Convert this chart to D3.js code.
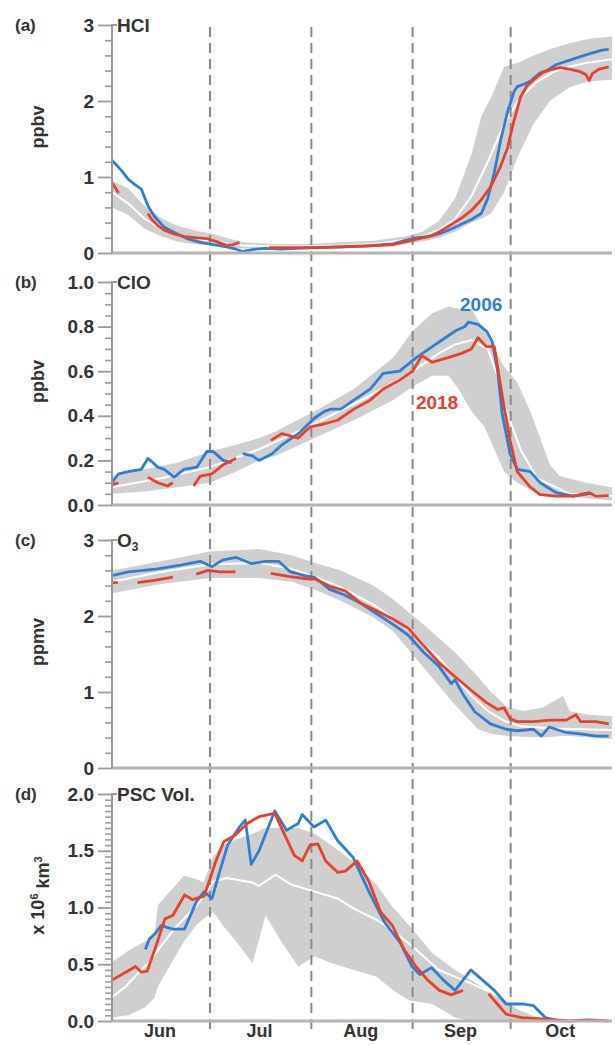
<!DOCTYPE html>
<html>
<head>
<meta charset="utf-8">
<script src="https://cdn.jsdelivr.net/npm/d3@7"></script>
<style>
  html, body { margin: 0; padding: 0; background: #fff; }
  svg { display: block; }
  text { font-family: "Liberation Sans", Arial, Helvetica, sans-serif; fill: #333; }
</style>
</head>
<body>
<svg id="chart" width="615" height="1045"></svg>
<script>
// ---------------- DATA (day 0 = 1 June) ----------------
const months = ["Jun", "Jul", "Aug", "Sep", "Oct"];
const monthMid = [14.5, 45, 76, 106.5, 137];
const monthStart = [30, 61, 92, 122];

// (a) HCl, ppbv
const hcl2006 = [[0,1.22],[3,1.08],[5,0.97],[7,0.9],[9,0.84],[11,0.62],[13,0.48],[16,0.34],[20,0.25],[23,0.19],[27,0.14],[31,0.11],[35,0.08],[38,0.05],[40,0.02],[44,0.05],[47,0.06],[52,0.05],[56,0.06],[62,0.07],[70,0.08],[80,0.1],[86,0.12],[90,0.17],[93,0.2],[97,0.22],[100,0.25],[104,0.32],[108,0.4],[110,0.44],[113,0.52],[115,0.72],[117,1.06],[119,1.5],[121,1.85],[123,2.12],[124,2.19],[126,2.22],[128,2.26],[131,2.37],[133,2.4],[136,2.48],[141,2.55],[146,2.62],[150,2.67],[152,2.68]];
const hcl2018 = [[0,0.92],[1,0.86],[2,0.79],[2.5,null],[11,0.52],[12,0.45],[14,0.36],[16,0.3],[19,0.25],[22,0.22],[26,0.2],[29,0.19],[32,0.15],[35,0.1],[37,0.11],[39,0.14],[40,null],[48,0.07],[55,0.07],[62,0.07],[70,0.08],[78,0.09],[86,0.11],[90,0.15],[94,0.19],[98,0.23],[101,0.3],[104,0.38],[107,0.46],[110,0.56],[113,0.7],[116,0.88],[119,1.15],[121,1.38],[123,1.74],[125,2.05],[127,2.2],[129,2.28],[132,2.38],[134,2.41],[137,2.44],[140,2.42],[143,2.39],[145,2.35],[146,2.27],[147,2.36],[149,2.42],[152,2.45]];
const hclBand = [[0,0.6,0.95],[5,0.5,0.85],[10,0.32,0.62],[15,0.22,0.46],[20,0.15,0.36],[25,0.12,0.3],[30,0.1,0.26],[35,0.08,0.2],[40,0.06,0.14],[50,0.05,0.12],[60,0.05,0.12],[70,0.06,0.14],[80,0.08,0.16],[90,0.12,0.22],[95,0.15,0.28],[100,0.2,0.42],[105,0.28,0.72],[110,0.4,1.3],[113,0.45,1.8],[116,0.52,2.05],[120,0.8,2.45],[124,1.25,2.5],[129,1.7,2.6],[134,2.0,2.68],[140,2.18,2.76],[146,2.26,2.82],[153,2.28,2.85]];
const hclMed = [[0,0.8],[5,0.65],[10,0.45],[15,0.32],[20,0.24],[30,0.16],[40,0.1],[50,0.09],[60,0.09],[70,0.1],[80,0.12],[90,0.17],[95,0.22],[100,0.3],[105,0.45],[110,0.75],[115,1.2],[120,1.7],[125,2.05],[130,2.25],[135,2.38],[140,2.45],[145,2.5],[153,2.55]];

// (b) ClO, ppbv
const clo2006 = [[0,0.1],[2,0.14],[5,0.15],[9,0.16],[11,0.21],[14,0.17],[16,0.16],[19,0.125],[22,0.16],[26,0.17],[29,0.24],[31,0.24],[34,0.2],[36.6,0.19],[37,null],[40,0.23],[43,0.22],[45,0.2],[49,0.23],[52,0.27],[57,0.32],[62,0.39],[65,0.42],[67,0.43],[70,0.43],[74,0.47],[79,0.52],[83,0.59],[88,0.6],[93,0.66],[98,0.71],[103,0.76],[105,0.78],[108,0.8],[109,0.82],[112,0.81],[114.6,0.78],[116.4,0.73],[118,0.6],[119.4,0.41],[121.8,0.23],[124,0.16],[128,0.15],[131,0.1],[136,0.055],[141,0.04],[146,0.05],[147,0.05]];
const clo2018 = [[0,0.09],[2,0.1],[2.5,null],[11,0.125],[14,0.1],[17,0.085],[18.6,0.1],[19,null],[25,0.085],[27,0.13],[30.6,0.14],[34,0.18],[38,0.21],[38.5,null],[48.6,0.29],[52,0.32],[57,0.3],[60.6,0.35],[64,0.36],[69,0.38],[74,0.43],[79,0.47],[83,0.52],[88,0.56],[92,0.6],[94.8,0.67],[98,0.64],[102.6,0.66],[107,0.68],[110,0.7],[112,0.75],[114.6,0.71],[117,0.71],[119.4,0.49],[121.8,0.29],[124,0.15],[128,0.08],[131,0.047],[136,0.04],[141,0.04],[146,0.055],[148,0.04],[152,0.042]];
const cloBand = [[0,0.05,0.13],[10,0.06,0.16],[20,0.08,0.19],[30,0.1,0.24],[38,0.15,0.27],[45,0.2,0.3],[50,0.22,0.33],[62,0.3,0.42],[74,0.38,0.52],[86,0.47,0.66],[92,0.53,0.78],[98,0.58,0.86],[103,0.58,0.89],[106,0.52,0.88],[110,0.42,0.88],[114,0.35,0.78],[117,0.25,0.7],[120,0.15,0.62],[124,0.1,0.55],[128,0.07,0.42],[131,0.05,0.3],[134,0.04,0.18],[137,0.04,0.13],[145,0.03,0.1],[153,0.02,0.08]];
const cloMed = [[0,0.08],[15,0.12],[30,0.17],[45,0.25],[60,0.35],[75,0.46],[90,0.58],[100,0.68],[105,0.72],[110,0.74],[115,0.7],[118,0.58],[120,0.45],[125,0.25],[130,0.12],[140,0.05],[153,0.04]];

// (c) O3, ppmv
const o32006 = [[0,2.53],[5,2.58],[14,2.62],[21,2.67],[27,2.72],[30.6,2.65],[34,2.74],[38,2.77],[42.6,2.69],[47,2.72],[51,2.72],[54.6,2.58],[59,2.53],[62,2.51],[66.6,2.35],[71,2.28],[76,2.17],[81,2.03],[86,1.89],[90.6,1.75],[95.4,1.52],[100,1.34],[103.8,1.11],[105,1.16],[107.4,0.97],[111,0.74],[115.8,0.58],[120.6,0.51],[124,0.49],[129,0.51],[131.4,0.42],[133.8,0.54],[138.6,0.47],[143.4,0.45],[148,0.42],[152,0.42]];
const o32018 = [[0,2.44],[1.8,2.44],[2,null],[7.8,2.44],[13,2.47],[18.6,2.51],[19,null],[25.8,2.55],[29.4,2.6],[33,2.58],[37.8,2.58],[38,null],[48.6,2.56],[54,2.52],[59.4,2.49],[62,2.49],[66.6,2.39],[71.4,2.33],[76,2.17],[81,2.07],[86,1.96],[90.6,1.84],[95.4,1.61],[100,1.39],[105,1.2],[110,1.02],[114.6,0.86],[118,0.77],[120,0.79],[121.8,0.65],[124,0.61],[129,0.61],[134,0.63],[139,0.63],[142,0.7],[143.4,0.61],[148,0.61],[152,0.58]];
const o3Band = [[0,2.3,2.6],[15,2.42,2.72],[30,2.5,2.85],[45,2.5,2.88],[55,2.45,2.8],[62,2.35,2.7],[70,2.2,2.6],[80,1.98,2.4],[86,1.8,2.22],[95,1.34,1.9],[105,0.83,1.52],[112,0.51,1.2],[116,0.45,1.0],[121,0.42,0.8],[126,0.41,0.75],[132,0.4,0.8],[138,0.42,0.95],[140,0.42,0.75],[146,0.4,0.7],[153,0.38,0.68]];
const o3Med = [[0,2.45],[15,2.58],[30,2.68],[45,2.7],[55,2.62],[62,2.52],[70,2.38],[80,2.15],[90,1.85],[100,1.45],[105,1.2],[110,0.95],[115,0.75],[120,0.62],[125,0.55],[135,0.52],[153,0.5]];

// (d) PSC volume, x 10^6 km^3
const psc2006 = [[10.2,0.63],[11.4,0.72],[13.2,0.77],[15,0.84],[18.6,0.81],[22.2,0.81],[25.8,1.05],[28.2,1.14],[30.6,1.08],[33,1.32],[35.4,1.55],[39,1.71],[40.8,1.77],[42.6,1.38],[45,1.5],[49.8,1.85],[53.4,1.68],[57,1.74],[58.2,1.82],[61.8,1.71],[65.4,1.77],[69,1.59],[73.8,1.44],[78.6,1.14],[83.4,0.87],[88.2,0.69],[91.8,0.48],[94.2,0.41],[97.8,0.47],[101.4,0.36],[105,0.27],[109.8,0.45],[113.4,0.36],[117,0.27],[120.6,0.15],[125.4,0.15],[129,0.135],[132.6,0.03],[136.2,0.006],[138.6,0]];
const psc2018 = [[0,0.36],[5.4,0.45],[7.2,0.48],[9,0.43],[10.8,0.44],[13.8,0.69],[16.2,0.9],[18.6,0.93],[22.2,1.11],[24.6,1.07],[28.2,1.1],[31.8,1.41],[34.2,1.58],[37.8,1.64],[41.4,1.74],[45,1.8],[49.8,1.83],[52.2,1.68],[55.8,1.46],[58.2,1.41],[60.6,1.55],[63,1.56],[65.4,1.41],[69,1.31],[71.4,1.32],[75,1.41],[78.6,1.23],[82.2,0.96],[85.8,0.84],[89.4,0.63],[93,0.48],[96.6,0.36],[100.2,0.27],[103.8,0.23],[107.4,0.27],[108,null],[115.2,0.24],[120.6,0.06],[125.4,0.03],[133.8,0.015],[139.8,0],[145.8,0.01],[151.8,0]];
const pscBand = [[0,0.03,0.52],[5,0.05,0.62],[10,0.12,0.7],[13,0.2,0.75],[14,0.3,1.02],[18,0.5,1.15],[22,0.7,1.28],[26,0.85,1.25],[28,0.9,1.22],[31,0.96,1.45],[34,0.84,1.55],[38,0.7,1.6],[43,0.51,1.65],[47,0.93,1.7],[52,0.69,1.7],[57,0.48,1.7],[62,0.57,1.65],[67,0.51,1.55],[74,0.45,1.4],[81,0.39,1.2],[86,0.27,1.0],[91,0.18,0.84],[98,0.15,0.6],[105,0.03,0.45],[110,0,0.36],[120,0,0.18],[125,0,0.09],[132,0,0.02],[153,0,0]];
const pscMed = [[0,0.21],[4,0.3],[11,0.51],[19,0.81],[26,1.02],[31,1.23],[35,1.26],[43,1.22],[45,1.19],[50,1.29],[55,1.2],[62,1.14],[69,1.08],[74,0.99],[81,0.89],[86,0.8],[93,0.63],[100,0.45],[110,0.33],[117,0.24],[124,0.12],[131,0.03],[139,0]];

// tick definitions
const hclTicks = [0, 1, 2, 3];
const cloTicks = [0, 0.2, 0.4, 0.6, 0.8, 1.0];
const o3Ticks = [0, 1, 2, 3];
const pscTicks = [0, 0.5, 1.0, 1.5, 2.0];

// ---------------- LAYOUT ----------------
const COL_BLUE = "#2f7ed3", COL_RED = "#e8402b", COL_BAND = "#cfcfcf";
const svg = d3.select("#chart");
const x = d3.scaleLinear().domain([0, 153]).range([112, 612]);

const panels = [
  { tag: "(a)", title: "HCl", unit: "ppbv", range: [253, 25], dom: [0, 3], ticks: hclTicks, minor: 0.2, fmt: d3.format("d"), b: hcl2006, r: hcl2018, band: hclBand, med: hclMed },
  { tag: "(b)", title: "ClO", unit: "ppbv", range: [505, 282], dom: [0, 1], ticks: cloTicks, minor: 0.05, fmt: d3.format(".1f"), b: clo2006, r: clo2018, band: cloBand, med: cloMed },
  { tag: "(c)", title: "O3", unit: "ppmv", range: [768, 540], dom: [0, 3], ticks: o3Ticks, minor: 0.2, fmt: d3.format("d"), b: o32006, r: o32018, band: o3Band, med: o3Med },
  { tag: "(d)", title: "PSC Vol.", unit: "psc", range: [1021, 794], dom: [0, 2], ticks: pscTicks, minor: 0.05, fmt: d3.format(".1f"), b: psc2006, r: psc2018, band: pscBand, med: pscMed }
];

const FS = 19;

// bands & medians
panels.forEach(p => {
  p.y = d3.scaleLinear().domain(p.dom).range(p.range);
  const g = svg.append("g");
  g.append("path").datum(p.band)
    .attr("fill", COL_BAND)
    .attr("d", d3.area().x(d => x(d[0])).y0(d => p.y(d[1])).y1(d => p.y(d[2])));
  g.append("path").datum(p.med)
    .attr("fill", "none").attr("stroke", "#fff").attr("stroke-width", 2)
    .attr("d", d3.line().x(d => x(d[0])).y(d => p.y(d[1])));
});

// dashed month boundaries (across all panels)
svg.append("g").selectAll("line").data(monthStart).join("line")
  .attr("x1", d => x(d)).attr("x2", d => x(d))
  .attr("y1", 27).attr("y2", 1031)
  .attr("stroke", "#8a8a8a").attr("stroke-width", 2)
  .attr("stroke-dasharray", "10,6");

panels.forEach((p, i) => {
  const g = svg.append("g");
  const line = d3.line().defined(d => d[1] != null).x(d => x(d[0])).y(d => p.y(d[1]));
  g.append("path").datum(p.b).attr("fill", "none").attr("stroke", COL_BLUE)
    .attr("stroke-width", 2.8).attr("stroke-linejoin", "round").attr("d", line);
  g.append("path").datum(p.r).attr("fill", "none").attr("stroke", COL_RED)
    .attr("stroke-width", 2.8).attr("stroke-linejoin", "round").attr("d", line);

  // x axis (bottom)
  const xa = d3.axisBottom(x).tickValues(i === 3 ? monthMid : []).tickSize(0)
    .tickFormat((d, k) => months[k]).tickPadding(3);
  const gx = svg.append("g").attr("transform", `translate(0,${p.range[0]})`).call(xa);
  gx.select(".domain").attr("stroke", "#b3b3b3").attr("stroke-width", 3).attr("d", `M${x(0)},0H${x(153)}`);
  gx.selectAll("text").attr("font-size", 18).attr("font-weight", "bold").attr("fill", "#333")
    .style("font-family", '"Liberation Sans", Arial, sans-serif');

  // minor ticks
  const minorVals = d3.range(p.dom[0], p.dom[1] + 1e-9, p.minor)
    .filter(v => !p.ticks.some(t => Math.abs(t - v) < 1e-6));
  const gm = svg.append("g").attr("transform", `translate(${x(0)},0)`)
    .call(d3.axisLeft(p.y).tickValues(minorVals).tickSize(7).tickFormat(""));
  gm.select(".domain").remove();
  gm.selectAll("line").attr("stroke", "#9a9a9a").attr("stroke-width", 1.6);

  // major ticks + labels
  const gy = svg.append("g").attr("transform", `translate(${x(0)},0)`)
    .call(d3.axisLeft(p.y).tickValues(p.ticks).tickFormat(p.fmt).tickSize(14).tickPadding(4));
  gy.select(".domain").attr("stroke", "#9a9a9a").attr("stroke-width", 2)
    .attr("d", `M0,${p.range[0]}V${p.range[1]}h5`);
  gy.selectAll("line").attr("stroke", "#9a9a9a").attr("stroke-width", 1.8);
  gy.selectAll("text").attr("font-size", FS).attr("font-weight", "bold").attr("fill", "#333")
    .style("font-family", '"Liberation Sans", Arial, sans-serif');

  // panel tag
  svg.append("text").attr("x", 15).attr("y", p.range[1]).attr("dy", "0.35em")
    .attr("font-size", 17).attr("font-weight", "bold").text(p.tag);

  // title
  const t = svg.append("text").attr("x", 117).attr("y", p.range[1]).attr("dy", "0.35em")
    .attr("font-size", FS).attr("font-weight", "bold");
  if (p.title === "O3") {
    t.append("tspan").text("O");
    t.append("tspan").attr("font-size", 12).attr("dy", "0.35em").text("3");
  } else t.text(p.title);

  // unit label
  const cy = (p.range[0] + p.range[1]) / 2 - 12;
  const u = svg.append("text").attr("transform", `translate(38,${cy}) rotate(-90)`)
    .attr("text-anchor", "middle").attr("dy", "0.35em")
    .attr("font-size", 18).attr("font-weight", "bold");
  if (p.unit === "psc") {
    u.append("tspan").text("x 10");
    u.append("tspan").attr("font-size", 11).attr("dy", "-0.6em").text("6");
    u.append("tspan").attr("dy", "0.6em").text(" km");
    u.append("tspan").attr("font-size", 11).attr("dy", "-0.6em").text("3");
  } else u.text(p.unit);
});

// year labels in panel (b)
const pb = panels[1];
svg.append("text").attr("x", x(106.5)).attr("y", pb.y(0.9)).attr("dy", "0.35em")
  .attr("font-size", FS).attr("font-weight", "bold").style("fill", COL_BLUE).text("2006");
svg.append("text").attr("x", x(93)).attr("y", pb.y(0.46)).attr("dy", "0.35em")
  .attr("font-size", FS).attr("font-weight", "bold").style("fill", COL_RED).text("2018");
</script>
</body>
</html>
